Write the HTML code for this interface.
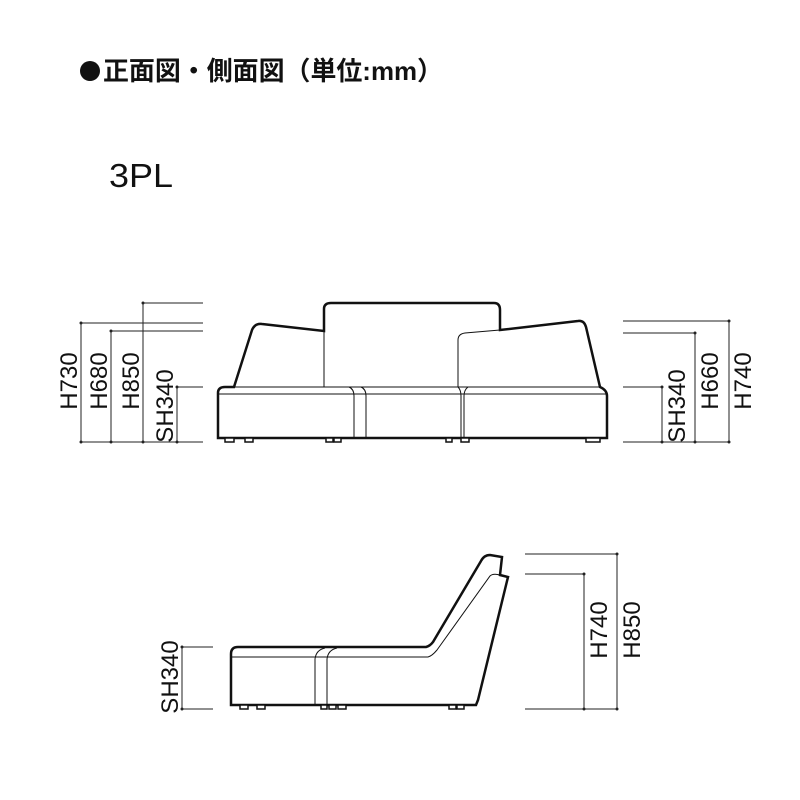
<!DOCTYPE html>
<html><head><meta charset="utf-8"><style>
html,body{margin:0;padding:0;background:#fff;}
svg{display:block;}
text{font-family:"Liberation Sans","Noto Sans CJK JP",sans-serif;fill:#111;}
</style></head><body>
<svg width="800" height="800" viewBox="0 0 800 800" xmlns="http://www.w3.org/2000/svg">
<circle cx="90" cy="71" r="10" fill="#111"/>
<text x="103" y="80" font-size="26" font-weight="bold" textLength="340" lengthAdjust="spacingAndGlyphs">正面図・側面図（単位:mm）</text>
<text x="109" y="187" font-size="33" textLength="64" lengthAdjust="spacingAndGlyphs">3PL</text>

<g stroke="#222" stroke-width="1" fill="none">
<line x1="81" y1="323" x2="203" y2="323"/>
<line x1="111" y1="331" x2="203" y2="331"/>
<line x1="143" y1="303" x2="203" y2="303"/>
<line x1="177" y1="387" x2="203" y2="387"/>
<line x1="81" y1="442" x2="203" y2="442"/>
<line x1="81" y1="323" x2="81" y2="442"/>
<line x1="111" y1="331" x2="111" y2="442"/>
<line x1="143" y1="303" x2="143" y2="442"/>
<line x1="177" y1="387" x2="177" y2="442"/>
<line x1="623" y1="321" x2="729" y2="321"/>
<line x1="623" y1="333" x2="695" y2="333"/>
<line x1="623" y1="387" x2="662" y2="387"/>
<line x1="623" y1="442" x2="729" y2="442"/>
<line x1="729" y1="321" x2="729" y2="442"/>
<line x1="695" y1="333" x2="695" y2="442"/>
<line x1="662" y1="387" x2="662" y2="442"/>
<line x1="182" y1="647" x2="213" y2="647"/>
<line x1="182" y1="709" x2="213" y2="709"/>
<line x1="182" y1="647" x2="182" y2="709"/>
<line x1="525" y1="554" x2="617" y2="554"/>
<line x1="525" y1="574" x2="584" y2="574"/>
<line x1="525" y1="709" x2="617" y2="709"/>
<line x1="617" y1="554" x2="617" y2="709"/>
<line x1="584" y1="574" x2="584" y2="709"/>
</g>
<g fill="#222">
<circle cx="81" cy="323" r="1.5"/><circle cx="111" cy="331" r="1.5"/><circle cx="143" cy="303" r="1.5"/><circle cx="177" cy="387" r="1.5"/>
<circle cx="81" cy="442" r="1.5"/><circle cx="111" cy="442" r="1.5"/><circle cx="143" cy="442" r="1.5"/><circle cx="177" cy="442" r="1.5"/>
<circle cx="729" cy="321" r="1.5"/><circle cx="695" cy="333" r="1.5"/><circle cx="662" cy="387" r="1.5"/>
<circle cx="729" cy="442" r="1.5"/><circle cx="695" cy="442" r="1.5"/><circle cx="662" cy="442" r="1.5"/>
<circle cx="182" cy="647" r="1.5"/><circle cx="182" cy="709" r="1.5"/>
<circle cx="617" cy="554" r="1.5"/><circle cx="584" cy="574" r="1.5"/><circle cx="617" cy="709" r="1.5"/><circle cx="584" cy="709" r="1.5"/>
</g>
<g font-size="24" text-anchor="middle">
<text transform="translate(77,381) rotate(-90)">H730</text>
<text transform="translate(107,381) rotate(-90)">H680</text>
<text transform="translate(139,381) rotate(-90)">H850</text>
<text transform="translate(173,406) rotate(-90)">SH340</text>
<text transform="translate(685,406) rotate(-90)">SH340</text>
<text transform="translate(718,381) rotate(-90)">H660</text>
<text transform="translate(751,381) rotate(-90)">H740</text>
<text transform="translate(178,677) rotate(-90)">SH340</text>
<text transform="translate(607,630) rotate(-90)">H740</text>
<text transform="translate(640,630) rotate(-90)">H850</text>
</g>

<g stroke="#111" fill="none">
<path d="M218,438 L218,393 Q218,387 225,387 L234,387 L252,330 Q255,323 262,324 L324,331 L324,309 Q324,303 331,303 L494,303 Q500,303 500,310 L500,330 L578,321 Q584,320 586,327 L600,387 Q607,390 607,396 L607,438 Z" stroke-width="2.5"/>
<g stroke-width="1">
<line x1="218" y1="394" x2="607" y2="394"/>
<line x1="234" y1="387" x2="600" y2="387"/>
<line x1="324" y1="331" x2="324" y2="387"/>
<path d="M349,387 Q354,389 354,396 L354,438"/>
<path d="M361,387 Q366,389 366,396 L366,438"/>
<path d="M458,340 Q458,334 465,333 L500,330"/>
<path d="M458,340 L458,387 Q461,390 461,396 L461,438"/>
<path d="M468,387 Q464,390 464,396 L464,438"/>
</g>
<g stroke-width="1.5" fill="#fff">
<rect x="225" y="438" width="9" height="4"/><rect x="245" y="438" width="8" height="4"/>
<rect x="326" y="438" width="7" height="4"/><rect x="334" y="438" width="7" height="4"/>
<rect x="446" y="438" width="6" height="4"/><rect x="461" y="438" width="8" height="4"/>
<rect x="586" y="438" width="14" height="4"/>
</g>
</g>

<g stroke="#111" fill="none">
<path d="M231,705 L231,654 Q231,647 238,647 L426,647 Q430,646 433,642 L481,561 Q484,555 490,555 L502,557 L500,575 L508,577 L478,700 L476,705 Z" stroke-width="2.5"/>
<g stroke-width="1">
<path d="M231,657 L428,657 Q432,656 437,650 L490,576 Q493,573 500,575"/>
<path d="M315,705 L315,659 Q316,650 325,648"/>
<path d="M327,705 L327,659 Q328,650 337,648"/>
</g>
<g stroke-width="1.5" fill="#fff">
<rect x="240" y="705" width="8" height="4"/><rect x="257" y="705" width="8" height="4"/>
<rect x="321" y="705" width="6" height="4"/><rect x="329" y="705" width="7" height="4"/><rect x="338" y="705" width="8" height="4"/>
<rect x="449" y="705" width="7" height="4"/><rect x="457" y="705" width="7" height="4"/>
</g>
</g>
</svg>
</body></html>
